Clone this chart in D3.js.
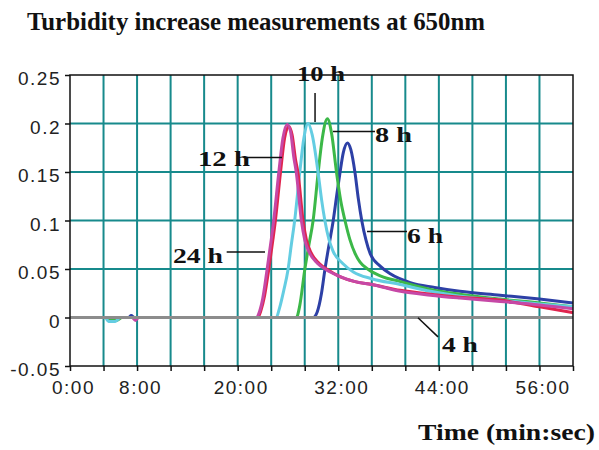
<!DOCTYPE html>
<html lang="en">
<head>
    <meta charset="utf-8">
    <title>Turbidity</title>
    <script type="text/javascript" src="https://d3js.org/d3.v7.min.js"></script>
    <style>
        body { margin: 0; background: #fff; }
        .tick text { font-family: "Liberation Sans", Arial, sans-serif; font-size: 19px; fill: #222; letter-spacing: 1.5px; }
        .lbl { font-family: "Liberation Serif", "Times New Roman", serif; font-weight: bold; fill: #111; }
    </style>
</head>
<body>
    <div id="chart"></div>
    <script type="text/javascript">
        // times in minutes, values in absorbance units
        const t4 = [0, 60];
        const v4 = [0, 0];

        const t6 = [0, 7.0, 7.3, 7.7, 29.0, 29.5, 30.0, 30.4, 30.9, 31.4, 31.8, 32.2, 32.6, 33.1, 33.5, 34.0, 34.4, 34.8, 35.3, 35.8, 37.0, 38.2, 40.6, 43.5, 46.5, 51.3, 56.0, 60.0];
        const v6 = [0, 0, 0.002, 0, 0, 0.006, 0.025, 0.049, 0.075, 0.1, 0.125, 0.149, 0.17, 0.18, 0.173, 0.149, 0.122, 0.1, 0.08, 0.066, 0.053, 0.045, 0.036, 0.031, 0.027, 0.023, 0.019, 0.015];

        const t8 = [0, 4.3, 4.8, 5.6, 6.2, 27.0, 27.4, 28.0, 28.5, 29.0, 29.6, 30.1, 30.7, 31.2, 31.8, 32.3, 32.8, 33.4, 34.0, 34.6, 35.5, 37.0, 39.4, 43.0, 46.5, 51.3, 56.0, 60.0];
        const v8 = [0, 0, -0.003, -0.003, 0, 0, 0.012, 0.049, 0.075, 0.1, 0.149, 0.185, 0.205, 0.19, 0.149, 0.12, 0.1, 0.08, 0.066, 0.057, 0.05, 0.043, 0.037, 0.029, 0.024, 0.019, 0.015, 0.011];

        const t10 = [0, 4.2, 4.6, 5.4, 6.0, 24.6, 25.0, 25.5, 26.0, 26.4, 26.8, 27.4, 27.9, 28.4, 28.9, 29.6, 30.0, 30.4, 30.9, 31.4, 32.5, 33.8, 36.0, 39.4, 43.0, 46.5, 51.3, 56.0, 60.0];
        const v10 = [0, 0, -0.004, -0.004, 0, 0, 0.01, 0.028, 0.049, 0.075, 0.1, 0.149, 0.185, 0.2, 0.188, 0.149, 0.122, 0.1, 0.08, 0.068, 0.056, 0.047, 0.04, 0.034, 0.027, 0.022, 0.018, 0.014, 0.011];

        const t12 = [0, 22.4, 22.8, 23.2, 23.7, 24.2, 24.5, 25.1, 25.6, 26.1, 26.5, 26.9, 27.2, 27.8, 28.2, 28.8, 29.7, 30.8, 32.0, 34.0, 36.0, 39.4, 43.0, 46.5, 51.3, 56.0, 60.0];
        const v12 = [0, 0, 0.008, 0.022, 0.049, 0.08, 0.1, 0.149, 0.185, 0.197, 0.188, 0.163, 0.149, 0.1, 0.08, 0.066, 0.056, 0.049, 0.043, 0.037, 0.034, 0.028, 0.024, 0.021, 0.018, 0.011, 0.005];

        const t24 = [0, 7.4, 7.8, 8.2, 22.2, 22.6, 23.0, 23.5, 24.0, 24.3, 24.9, 25.4, 25.9, 26.3, 26.7, 27.0, 27.6, 28.0, 28.6, 29.5, 30.6, 32.0, 34.0, 36.0, 39.4, 43.0, 46.5, 51.3, 56.0, 60.0];
        const v24 = [0, 0, -0.003, 0, 0, 0.006, 0.02, 0.049, 0.08, 0.1, 0.149, 0.185, 0.199, 0.192, 0.165, 0.149, 0.1, 0.08, 0.066, 0.056, 0.049, 0.043, 0.037, 0.034, 0.027, 0.023, 0.02, 0.0165, 0.013, 0.009];

        const seriesNames = ["6 h", "8 h", "10 h", "12 h", "24 h", "4 h"];
        const seriesTimes = [t6, t8, t10, t12, t24, t4];
        const seriesValues = [v6, v8, v10, v12, v24, v4];
        const seriesColors = ["#2d40a6", "#3cb848", "#64cde2", "#e0244e", "#c648a6", "#8c8c8c"];

        const yTicks = [-0.05, 0, 0.05, 0.1, 0.15, 0.2, 0.25];
        const yTickLabels = ["-0.05", "0", "0.05", "0.1", "0.15", "0.2", "0.25"];
        const xTicks = [0, 4, 8, 12, 16, 20, 24, 28, 32, 36, 40, 44, 48, 52, 56, 60];
        const xLabelMinutes = [0, 8, 20, 32, 44, 56];
        const xTickLabels = ["0:00", "8:00", "20:00", "32:00", "44:00", "56:00"];

        // annotation text + leader line, in data units
        const notes = [
            {text: "10 h", x: 29.94, y: 0.2433, anchor: "middle", len: 48, line: [[29.23, 0.2314], [29.23, 0.2015]]},
            {text: "8 h", x: 36.38, y: 0.1814, anchor: "start", len: 37, line: [[31.37, 0.1917], [36.38, 0.1917]]},
            {text: "12 h", x: 21.47, y: 0.1564, anchor: "end", len: 52, line: [[21.11, 0.1649], [25.29, 0.1649]]},
            {text: "6 h", x: 40.2, y: 0.077, anchor: "start", len: 36, line: [[35.43, 0.0886], [40.2, 0.0886]]},
            {text: "24 h", x: 18.25, y: 0.056, anchor: "end", len: 50, line: [[18.69, 0.0674], [23.26, 0.0674]]},
            {text: "4 h", x: 44.37, y: -0.0354, anchor: "start", len: 36, line: [[41.51, -0.0003], [43.9, -0.02]]}
        ];

        const width = 599;
        const height = 450;
        const margin = {left: 70, right: 26, top: 75, bottom: 84};

        const svg = d3.select("#chart")
            .append("svg")
            .attr("width", width)
            .attr("height", height);

        const x = d3.scaleLinear().domain([0, 60]).range([margin.left, width - margin.right]);
        const y = d3.scaleLinear().domain([-0.05, 0.25]).range([height - margin.bottom, margin.top]);

        // grid
        svg.append("g")
            .selectAll("line")
            .data(xTicks.slice(1, -1))
            .enter()
            .append("line")
                .attr("x1", d => x(d)).attr("x2", d => x(d))
                .attr("y1", y(0.25)).attr("y2", y(-0.05))
                .attr("stroke", "#178a8c")
                .attr("stroke-width", 2);
        svg.append("g")
            .selectAll("line")
            .data(yTicks.slice(1, -1))
            .enter()
            .append("line")
                .attr("x1", x(0)).attr("x2", x(60))
                .attr("y1", d => y(d)).attr("y2", d => y(d))
                .attr("stroke", "#178a8c")
                .attr("stroke-width", 2);

        // curves
        const line = d3.line()
            .x(d => x(d[0]))
            .y(d => y(d[1]))
            .curve(d3.curveMonotoneX);

        seriesNames.forEach(function(name, i) {
            const pts = seriesTimes[i].map((t, j) => [t, seriesValues[i][j]]);
            svg.append("path")
                .datum(pts)
                .attr("fill", "none")
                .attr("stroke", seriesColors[i])
                .attr("stroke-width", 3)
                .attr("stroke-linejoin", "round")
                .attr("d", line);
        });

        // frame
        svg.append("rect")
            .attr("x", x(0)).attr("y", y(0.25))
            .attr("width", x(60) - x(0)).attr("height", y(-0.05) - y(0.25))
            .attr("fill", "none")
            .attr("stroke", "#111")
            .attr("stroke-width", 1.5);

        // axes
        const yAxis = d3.axisLeft(y)
            .tickValues(yTicks)
            .tickSize(5)
            .tickPadding(4)
            .tickFormat((d, i) => yTickLabels[i]);
        svg.append("g")
            .attr("transform", "translate(" + x(0) + ",0)")
            .call(yAxis)
            .call(g => g.select(".domain").remove())
            .call(g => g.selectAll(".tick line").attr("stroke", "#111").attr("stroke-width", 1.5))
            .call(g => g.selectAll(".tick text").attr("dy", "0.5em"));

        const xAxis = d3.axisBottom(x)
            .tickValues(xTicks)
            .tickSize(5)
            .tickPadding(10)
            .tickFormat(d => {
                const k = xLabelMinutes.indexOf(d);
                return k >= 0 ? xTickLabels[k] : "";
            });
        svg.append("g")
            .attr("transform", "translate(0," + y(-0.05) + ")")
            .call(xAxis)
            .call(g => g.select(".domain").remove())
            .call(g => g.selectAll(".tick line").attr("stroke", "#111").attr("stroke-width", 1.5))
            .call(g => g.selectAll(".tick text").attr("dx", "3"));

        // annotations
        notes.forEach(function(n) {
            svg.append("line")
                .attr("x1", x(n.line[0][0])).attr("y1", y(n.line[0][1]))
                .attr("x2", x(n.line[1][0])).attr("y2", y(n.line[1][1]))
                .attr("stroke", "#111")
                .attr("stroke-width", 1.5);
            svg.append("text")
                .attr("class", "lbl")
                .attr("x", x(n.x))
                .attr("y", y(n.y))
                .attr("text-anchor", n.anchor)
                .attr("font-size", 22)
                .attr("textLength", n.len)
                .attr("lengthAdjust", "spacingAndGlyphs")
                .text(n.text);
        });

        // titles
        svg.append("text")
            .attr("class", "lbl")
            .attr("x", 27)
            .attr("y", 30)
            .attr("font-size", 25)
            .attr("textLength", 458)
            .attr("lengthAdjust", "spacingAndGlyphs")
            .text("Turbidity increase measurements at 650nm");

        svg.append("text")
            .attr("class", "lbl")
            .attr("x", 418)
            .attr("y", 440)
            .attr("font-size", 23)
            .attr("textLength", 177)
            .attr("lengthAdjust", "spacingAndGlyphs")
            .text("Time (min:sec)");
    </script>
</body>
</html>
